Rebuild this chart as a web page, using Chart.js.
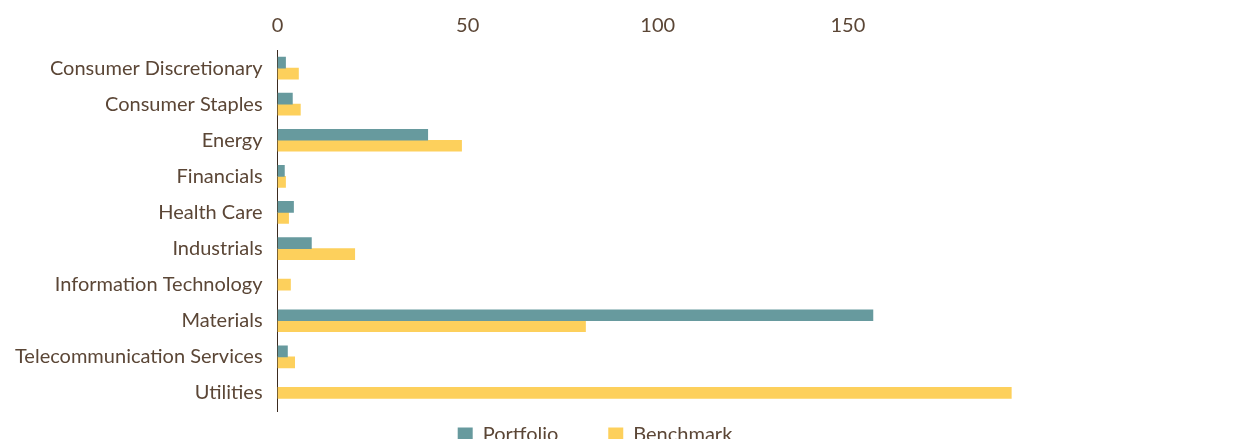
<!DOCTYPE html>
<html>
<head>
<meta charset="utf-8">
<script src="https://cdn.jsdelivr.net/npm/chart.js@4"></script>
<style>
  html, body { margin: 0; padding: 0; background: #fff; overflow: hidden; }
  #wrap { width: 1247px; height: 455px; position: relative; }
</style>
</head>
<body>
<div id="wrap"><canvas id="chart"></canvas></div>
<script>
// sector weights (null = no portfolio bar)
const sectors = [
  'Consumer Discretionary', 'Consumer Staples', 'Energy', 'Financials', 'Health Care',
  'Industrials', 'Information Technology', 'Materials', 'Telecommunication Services', 'Utilities'
];
const portfolio = [2.1, 3.9, 39.5, 1.8, 4.2, 8.9, null, 156.6, 2.6, null];
const benchmark = [5.5, 6.0, 48.4, 2.1, 2.9, 20.3, 3.4, 81.0, 4.5, 193.0];
const tickValues = [0, 50, 100, 150];

const TEXT = '#5b4636';
const FONT = 'Lato';

new Chart(document.getElementById('chart'), {
  type: 'bar',
  data: {
    labels: sectors,
    datasets: [
      { label: 'Portfolio', data: portfolio, backgroundColor: '#679a9e' },
      { label: 'Benchmark', data: benchmark, backgroundColor: '#fdd05c' }
    ]
  },
  options: {
    indexAxis: 'y',
    responsive: true,
    maintainAspectRatio: false,
    animation: false,
    skipNull: true,
    // fixed thickness so a lone bar stays thin and centred on its row
    datasets: { bar: { barThickness: 11 } },
    layout: { padding: { top: 2, left: 0, right: 57, bottom: 0 } },
    plugins: {
      tooltip: { enabled: false },
      legend: {
        position: 'bottom',
        labels: {
          color: TEXT, font: { family: FONT, size: 20 }, boxWidth: 15, boxHeight: 15, padding: 14,
          // wider gap between the two legend items
          generateLabels: chart => Chart.defaults.plugins.legend.labels.generateLabels(chart)
            .map((l, i) => { if (i === 0) l.text = l.text + '       '; return l; })
        }
      }
    },
    scales: {
      x: {
        position: 'top',
        min: 0, max: 240,
        afterBuildTicks: s => { s.ticks = tickValues.map(v => ({ value: v })); },
        grid: { display: false, drawTicks: false },
        border: { display: false },
        ticks: { color: TEXT, font: { family: FONT, size: 20 }, padding: 12 }
      },
      y: {
        grid: { display: false, drawTicks: false },
        border: { display: true, color: '#3a2a1f', width: 1 },
        ticks: { color: TEXT, font: { family: FONT, size: 20 }, padding: 15 }
      }
    }
  }
});
</script>
</body>
</html>
